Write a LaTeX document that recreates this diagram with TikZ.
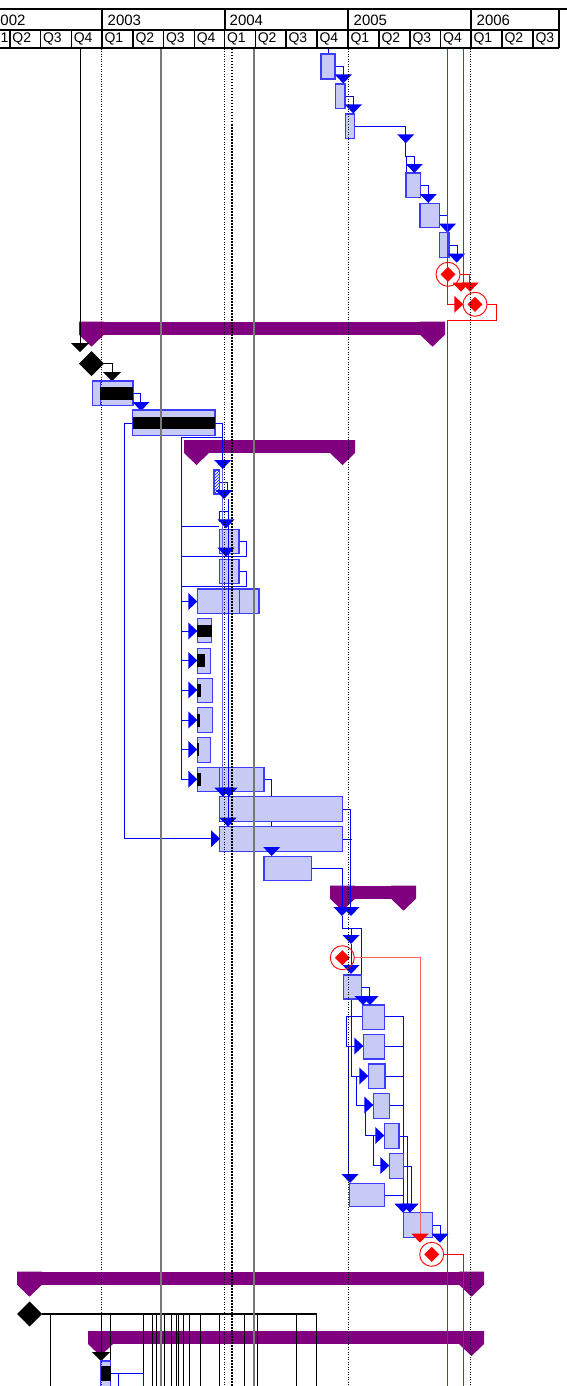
\documentclass[tikz,border=0pt]{standalone}
\usepackage{fontspec}
\setmainfont{Liberation Sans}
\usetikzlibrary{patterns}
\definecolor{gpurple}{RGB}{128,0,128}
\definecolor{gtaskfill}{RGB}{198,202,245}
\definecolor{gtaskline}{RGB}{60,60,255}
\definecolor{glink}{RGB}{0,0,255}
\definecolor{glinklight}{RGB}{100,100,255}
\definecolor{ggrid}{RGB}{120,120,120}
\definecolor{gred}{RGB}{255,0,0}
\definecolor{gredlight}{RGB}{255,100,100}
\tikzset{
 hdr/.style={line width=2pt},
 qline/.style={line width=1.5pt},
 yrlabel/.style={anchor=base west,inner sep=0pt,font=\fontsize{15}{18}\selectfont},
 qlabel/.style={anchor=base west,inner sep=0pt,font=\fontsize{14}{16}\selectfont},
 taskbox/.style={fill=gtaskfill,draw=gtaskline,line width=1.2pt},
 taskdiv/.style={draw=gtaskline,line width=0.8pt},
 link/.style={draw=glink,line width=0.9pt},
 linklt/.style={draw=glinklight,line width=1pt},
 chainv/.style={draw=glink,line width=1.4pt},
 redlink/.style={draw=gred,line width=0.9pt},
 redlinklt/.style={draw=gredlight,line width=1pt},
 blklink/.style={draw=black,line width=0.9pt},
 dotgrid/.style={draw=black,line width=1pt,dash pattern=on 1pt off 1.5pt},
 dotgridthick/.style={draw=black,line width=2.2pt,dash pattern=on 1.5pt off 1.5pt},
 solidgrid/.style={draw=ggrid,line width=1.2pt},
}
\newcommand\gDn[3][glink]{\fill[#1] (#2-8.5,#3-9) -- (#2+8.5,#3-9) -- (#2,#3) -- cycle;}
\newcommand\gDnB[2]{\fill[black] (#1-9,#2-9) -- (#1+9,#2-9) -- (#1,#2) -- cycle;}
\newcommand\gRt[3][glink]{\fill[#1] (#2-9,#3-8.5) -- (#2-9,#3+8.5) -- (#2,#3) -- cycle;}
\newcommand\gTask[4]{\path[taskbox] (#1,#2) rectangle (#3,#4);}
\newcommand\gProg[4]{\fill[black] (#1,#2) rectangle (#3,#4);}
\newcommand\gSum[3]{%
 \fill[gpurple] (#1,#3) rectangle (#2,#3+13);
 \fill[gpurple] (#1,#3) -- (#1+25,#3) -- (#1+25,#3+13) -- (#1+12.5,#3+25) -- (#1,#3+13) -- cycle;
 \fill[gpurple] (#2-25,#3) -- (#2,#3) -- (#2,#3+13) -- (#2-12.5,#3+25) -- (#2-25,#3+13) -- cycle;}
\newcommand\gRedMs[2]{\draw[gred,line width=0.9pt] (#1,#2) circle[radius=12pt];
 \fill[gred] (#1-7.5,#2) -- (#1,#2-7.5) -- (#1+7.5,#2) -- (#1,#2+7.5) -- cycle;}
\newcommand\gBlkDia[2]{\fill[black] (#1-12.5,#2) -- (#1,#2-12.5) -- (#1+12.5,#2) -- (#1,#2+12.5) -- cycle;}
\begin{document}
\begin{tikzpicture}[x=1pt,y=-1pt]
\useasboundingbox (0,0) rectangle (567,1386);
\clip (0,0) rectangle (567,1386);
\fill[white] (0,0) rectangle (567,1386);

% ---------- summary bars
\gSum{79}{445}{321.7}
\gSum{184}{355}{440}
\gSum{330}{416}{885.7}
\gSum{17}{484}{1271.7}
\gSum{88}{484}{1331}

% ---------- black milestones and links
\draw[blklink] (80,48) -- (80,344);
\gDnB{80}{352}
\gBlkDia{91.5}{363.5}
\draw[blklink] (104,363.5) -- (112,363.5) -- (112,372);
\gDnB{112}{381}
\gBlkDia{29.7}{1314}
\draw[blklink,line width=1.4pt] (42,1314) -- (316.7,1314);
\foreach \xx in {50,110.7,143.3,152.7,156.7,164,171.7,176,178,183.3,189.3,200,219.3,244.3,257.7,296.7,316.7}
  {\draw[blklink] (\xx,1314) -- (\xx,1386);}
\draw[blklink] (101,1314) -- (101,1352);
\gDnB{101}{1361}

% ---------- top chain
\draw[link] (328,48) -- (328,54);
\draw[link] (335,66) -- (343.3,66) -- (343.3,76);
\draw[link] (345,96.7) -- (353.3,96.7) -- (353.3,106);
\draw[link] (354.7,126) -- (405.7,126) -- (405.7,135);
\draw[link] (405.7,143) -- (405.7,156) -- (414.3,156) -- (414.3,165);
\draw[link] (406,156) -- (406,173);
\draw[link] (420.7,185.7) -- (428.3,185.7) -- (428.3,195);
\draw[link] (439.3,215) -- (447.7,215) -- (447.7,224);
\draw[link] (449,245) -- (457.3,245) -- (457.3,254);
\gTask{321}{54}{335}{79}
\gTask{335.7}{84}{345}{108.7}
\gTask{345.7}{114}{354.7}{138.3}
\gTask{406}{173}{420.7}{197.3}
\gTask{420}{203.3}{439.3}{227.3}
\gTask{439.3}{232.7}{449}{257.3}
\gDn{343.3}{83.5}
\gDn{353.3}{113.5}
\gDn{405.7}{143.3}
\gDn{414.3}{173}
\gDn{428.3}{203}
\gDn{447.5}{232.7}
\gDn{456.7}{262.7}

% ---------- red top
\draw[redlink] (447.7,48) -- (447.7,304.3) -- (455,304.3);
\gRt[gred]{463.3}{304.3}
\draw[redlink] (463.3,48) -- (463.3,283.3);
\draw[redlink] (460,274.3) -- (469.7,274.3) -- (469.7,283.3);
\gDn[gred]{461}{291.7}
\gDn[gred]{470}{291.7}
\gRedMs{448}{274.3}
\gRedMs{475}{304.3}
\draw[redlink] (487,304.3) -- (496,304.3) -- (496,320.7) -- (447.7,320.7) -- (447.7,1386);

% ---------- T1 / T2
\draw[link] (133,393) -- (140.7,393) -- (140.7,402);
\gTask{92.5}{381}{133}{405.7}
\draw[taskdiv] (100,381) -- (100,405.7);
\gProg{100}{387}{133}{400}
\gDn{141}{411}
\draw[link] (132.7,423) -- (124.3,423) -- (124.3,838.7) -- (211.7,838.7);
\gTask{132.7}{410}{215}{435.7}
\gProg{132.7}{416.7}{215}{429.3}
\draw[link] (215,423) -- (222.7,423) -- (222.7,462);

% ---------- middle comb
\draw[link] (222.7,437.7) -- (181,437.7) -- (181,779.3);
\draw[link] (181,526.7) -- (219.3,526.7);
\draw[link] (239,541.7) -- (246.7,541.7) -- (246.7,556) -- (181,556);
\draw[link] (239,571.7) -- (246.7,571.7) -- (246.7,586) -- (181,586);
\foreach \yy in {601.5,631,660.5,690,720,749.5,779.3}
  {\draw[link] (181,\yy) -- (189,\yy);}
\draw[link] (219.3,482) -- (227.3,482) -- (227.3,491);
\draw[link] (219.3,511.7) rectangle (228.3,521.7);
\fill[white] (214,470) rectangle (219.3,494);
\fill[pattern=north east lines,pattern color=glink] (214,470) rectangle (219.3,494);
\draw[gtaskline,line width=1.2pt] (214,470) rectangle (219.3,494);
\gTask{219.3}{529.3}{239}{553.3}
\gTask{219.3}{559.3}{239}{583.3}
\gTask{197.3}{589}{259}{613.3}
\draw[taskdiv] (239,589) -- (239,613.3);
\gTask{197.3}{618.3}{211.7}{642.7}
\gProg{197.3}{625}{211.7}{636.7}
\gTask{197.3}{648.3}{210.7}{673.3}
\gProg{197.3}{654.3}{205}{667.3}
\gTask{197.3}{678.3}{212.3}{702.7}
\gProg{197.3}{684}{201}{696.7}
\gTask{197.3}{707.7}{212.3}{732.3}
\gProg{197.3}{713.7}{200}{726.7}
\gTask{197.3}{737.3}{210.7}{762.3}
\gProg{197.3}{743.3}{198.6}{756.3}
\draw[link] (264,779.3) -- (271.7,779.3) -- (271.7,848);
\gTask{197.3}{767.3}{264}{791.7}
\gProg{197.3}{773}{201}{786}
\draw[taskdiv] (219.3,767.3) -- (219.3,791.7);
\draw[link] (342.7,809.3) -- (350.7,809.3) -- (350.7,907);
\draw[link] (342.7,839.3) -- (351.7,839.3);
\draw[link] (311.7,868.3) -- (342.7,868.3) -- (342.7,907);
\gTask{219.3}{796.7}{342.7}{821.7}
\gTask{219.3}{826.7}{342.7}{851.7}
\gTask{264}{856.7}{311.7}{880.7}
\draw[linklt] (222.7,462) -- (222.7,788);
\draw[chainv] (228.3,499) -- (228.3,818);
\gDn{222.7}{469}
\gDn{224}{499}
\gDn{226}{528.3}
\gDn{226}{556.7}
\foreach \yy in {601.5,631,660.5,690,720,749.5,779.3}
  {\gRt{197.3}{\yy}}
\gDn{223}{796.7}
\gDn{229}{796.7}
\gDn{228}{826.7}
\gRt{220}{838.7}
\gDn{271.7}{856}

% ---------- lower section
\draw[link] (342.7,916) -- (342.7,928.3) -- (361.7,928.3) -- (361.7,999);
\draw[link] (351,928.3) -- (351,936);
\draw[link] (351,944) -- (351,966);
\draw[link] (361.7,987.3) -- (369.3,987.3) -- (369.3,996);
\draw[link] (384.3,1016.7) -- (403.3,1016.7) -- (403.3,1204);
\draw[link] (362.7,1016.7) -- (346.7,1016.7) -- (346.7,1046) -- (355,1046);
\draw[link] (348.3,1046) -- (348.3,1175);
\draw[link] (351.7,999) -- (351.7,1076) -- (360,1076);
\draw[link] (384.3,1046) -- (403.3,1046);
\draw[link] (385,1076) -- (403.3,1076);
\draw[link] (356.7,1076) -- (356.7,1105) -- (365,1105);
\draw[link] (389.3,1105) -- (403.3,1105);
\draw[link] (365,1105) -- (365,1135.5) -- (376,1135.5);
\draw[link] (399,1136) -- (407.3,1136) -- (407.3,1204);
\draw[link] (373.3,1135.5) -- (373.3,1165.5) -- (381,1165.5);
\draw[link] (403.3,1166) -- (411.7,1166) -- (411.7,1204);
\draw[link] (384.3,1195) -- (403.3,1195);
\draw[link] (432.3,1225) -- (440,1225) -- (440,1234);
\gTask{343.3}{975}{361.7}{999}
\gTask{362.7}{1005}{384.3}{1029.3}
\gTask{363.3}{1034.3}{384.3}{1059}
\gTask{368.3}{1064}{385}{1088.3}
\gTask{373.3}{1093.3}{389.3}{1118.3}
\gTask{384.3}{1123.3}{399}{1148.3}
\gTask{389.3}{1153.3}{403.3}{1178.3}
\gTask{349.3}{1183.3}{384.3}{1206.7}
\gTask{403.3}{1212.7}{432.3}{1237.3}
\gDn{342}{916}
\gDn{351}{916}
\gDn{351}{944}
\gDn{351}{974}
\gDn{363}{1005}
\gDn{370}{1005}
\gRt{363.3}{1046}
\gRt{368.3}{1076}
\gRt{373.3}{1105}
\gRt{384.3}{1135.5}
\gRt{389.3}{1165.5}
\gDn{350}{1183}
\gDn{403}{1212.7}
\gDn{410}{1212.7}
\gDn{440}{1242.7}

% ---------- red lower
\draw[redlinklt] (354.3,957.7) -- (420,957.7) -- (420,1234);
\gDn[gred]{420}{1242.7}
\gRedMs{342.3}{957.7}
\gRedMs{431.7}{1254.3}
\draw[redlink] (443.7,1254.3) -- (463.3,1254.3) -- (463.3,1386);

% ---------- bottom task
\draw[link] (110.7,1373) -- (143.3,1373) -- (143.3,1386);
\draw[link] (118.3,1373) -- (118.3,1386);
\gTask{100.7}{1361}{110.7}{1392}
\gProg{100.7}{1366}{110.7}{1381}

% ---------- grid lines
\draw[dotgrid] (101,49) -- (101,1386);
\draw[dotgrid] (224,49) -- (224,1386);
\draw[dotgridthick] (232,49) -- (232,1386);
\draw[dotgrid] (348,49) -- (348,1386);
\draw[dotgrid] (470.5,49) -- (470.5,1386);
\draw[solidgrid] (161,49) -- (161,1386);
\draw[solidgrid] (254,49) -- (254,1386);

% ---------- header
\fill[white] (0,0) rectangle (567,48);
\draw[hdr] (0,9) -- (567,9);
\draw[hdr] (0,30) -- (559,30);
\draw[hdr] (0,48) -- (559,48);
\foreach \xx in {102,224.5,348,471} {\draw[hdr] (\xx,9) -- (\xx,30);}
\draw[hdr] (559,9) -- (559,48);
\foreach \xx in {10,40.5,71.3,102,133,163.5,194.3,224.5,255.3,286,317,348,379,410,440.7,471,502,533}
  {\draw[qline] (\xx,30) -- (\xx,48);}
\node[yrlabel] (y2002) at (0.3,26) {002};
\node[yrlabel] (y2003) at (107.5,26) {2003};
\node[yrlabel] (y2004) at (229.5,26) {2004};
\node[yrlabel] (y2005) at (353.5,26) {2005};
\node[yrlabel] (y2006) at (476.5,26) {2006};
\node[qlabel] (qa) at (0.5,42.8) {1};
\foreach \xx/\qq/\nn in {12.3/Q2/b,42.8/Q3/c,73.6/Q4/d,104.3/Q1/e,135.3/Q2/f,165.8/Q3/g,196.6/Q4/h,226.8/Q1/i,257.6/Q2/j,288.3/Q3/k,319.3/Q4/l,350.3/Q1/m,381.3/Q2/n,412.3/Q3/o,443/Q4/p,473.3/Q1/q,504.3/Q2/r,535.3/Q3/s}
  {\node[qlabel] (q\nn) at (\xx,42.8) {\qq};}
\end{tikzpicture}
\end{document}
